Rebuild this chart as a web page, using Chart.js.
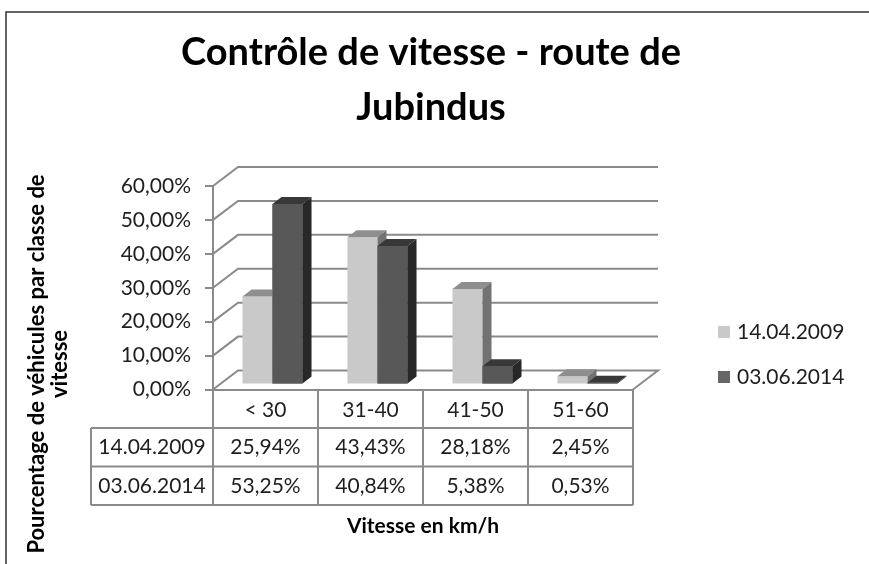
<!DOCTYPE html>
<html>
<head>
<meta charset="utf-8">
<script src="https://cdn.jsdelivr.net/npm/chart.js@4"></script>
<style>
  body { margin: 0; background: #fff; }
  canvas { display: block; }
</style>
</head>
<body>
<canvas id="speedChart" width="869" height="564"></canvas>
<script>
const titleLines = ['Contrôle de vitesse - route de', 'Jubindus'];
const yTitleLines = ['Pourcentage de véhicules par classe de', 'vitesse'];
const xTitle = 'Vitesse en km/h';
const categories = ['< 30', '31-40', '41-50', '51-60'];
const seriesNames = ['14.04.2009', '03.06.2014'];
const values2009 = [25.94, 43.43, 28.18, 2.45];
const values2014 = [53.25, 40.84, 5.38, 0.53];
const yTicks = [0, 10, 20, 30, 40, 50, 60];

const FONT = 'Lato';
const gridColor = '#8a8a8a';
const textColor = '#1e1e1e';
const fills = [
  { front: '#c9c9c9', top: '#8e8e8e', side: '#727272' },
  { front: '#585858', top: '#383838', side: '#282828' }
];
const wallDepth = { x: 25, y: -19 };
const barShift = { x: 7, y: -5 };
const barDepth = { x: 9, y: -7 };
const rowH = 38.5;

function pct(v) {
  return v.toFixed(2).replace('.', ',') + '%';
}

// back wall, left wall and floor
const wallsPlugin = {
  id: 'walls',
  beforeDatasetsDraw(chart) {
    const { ctx, chartArea, scales } = chart;
    ctx.save();
    ctx.strokeStyle = gridColor;
    ctx.lineWidth = 2;
    yTicks.forEach(v => {
      const y = scales.y.getPixelForValue(v);
      ctx.beginPath();
      ctx.moveTo(chartArea.left, y);
      ctx.lineTo(chartArea.left + wallDepth.x, y + wallDepth.y);
      ctx.lineTo(chartArea.right + wallDepth.x, y + wallDepth.y);
      if (v === 0) ctx.lineTo(chartArea.right, y);
      ctx.stroke();
    });
    ctx.restore();
  }
};

function drawFaces(ctx, bar, f) {
  const l = bar.x - bar.width / 2;
  const r = bar.x + bar.width / 2;
  ctx.fillStyle = f.top;
  ctx.beginPath();
  ctx.moveTo(l, bar.y);
  ctx.lineTo(r, bar.y);
  ctx.lineTo(r + barDepth.x, bar.y + barDepth.y);
  ctx.lineTo(l + barDepth.x, bar.y + barDepth.y);
  ctx.closePath();
  ctx.fill();
  ctx.fillStyle = f.side;
  ctx.beginPath();
  ctx.moveTo(r, bar.y);
  ctx.lineTo(r + barDepth.x, bar.y + barDepth.y);
  ctx.lineTo(r + barDepth.x, bar.base + barDepth.y);
  ctx.lineTo(r, bar.base);
  ctx.closePath();
  ctx.fill();
}

// 3d bars: shift the library bars back a bit and add top / side faces
const bars3dPlugin = {
  id: 'bars3d',
  beforeDatasetsDraw(chart) {
    chart.ctx.save();
    chart.ctx.translate(barShift.x, barShift.y);
  },
  afterDatasetsDraw(chart) {
    const ctx = chart.ctx;
    const light = chart.getDatasetMeta(0).data;
    const dark = chart.getDatasetMeta(1).data;
    light.forEach(bar => drawFaces(ctx, bar, fills[0]));
    // the dark bars stand right of the light ones, so they go on top
    dark.forEach(bar => {
      bar.draw(ctx);
      drawFaces(ctx, bar, fills[1]);
    });
    ctx.restore();
  }
};

// title, axis titles, data table, legend and frame
const decorPlugin = {
  id: 'decor',
  afterDraw(chart) {
    const { ctx, chartArea, scales } = chart;
    const series = [values2009, values2014];
    const tableTop = chartArea.bottom;
    const labelLeft = 91;
    ctx.save();

    ctx.strokeStyle = '#333';
    ctx.lineWidth = 1.5;
    ctx.strokeRect(6, 12, 900, 600);

    ctx.fillStyle = '#000';
    ctx.textAlign = 'center';
    ctx.textBaseline = 'middle';
    ctx.font = 'bold 38px ' + FONT;
    ctx.fillText(titleLines[0], 431, 53);
    ctx.fillText(titleLines[1], 431, 108);

    ctx.font = 'bold 21px ' + FONT;
    ctx.fillText(xTitle, (chartArea.left + chartArea.right) / 2, 526);
    ctx.save();
    ctx.translate(37, 364);
    ctx.rotate(-Math.PI / 2);
    ctx.font = 'bold 22px ' + FONT;
    ctx.fillText(yTitleLines[0], 0, 0);
    ctx.fillText(yTitleLines[1], 0, 23);
    ctx.restore();

    // table grid
    const colW = (chartArea.right - chartArea.left) / categories.length;
    const r1 = tableTop + rowH;
    const r2 = r1 + rowH;
    const r3 = r2 + rowH;
    ctx.strokeStyle = gridColor;
    ctx.lineWidth = 2;
    ctx.beginPath();
    [r1, r2, r3].forEach(y => {
      ctx.moveTo(labelLeft, y);
      ctx.lineTo(chartArea.right, y);
    });
    ctx.moveTo(labelLeft, r1);
    ctx.lineTo(labelLeft, r3);
    for (let i = 0; i <= categories.length; i++) {
      const x = chartArea.left + i * colW;
      ctx.moveTo(x, tableTop);
      ctx.lineTo(x, r3);
    }
    ctx.stroke();

    ctx.fillStyle = textColor;
    ctx.font = '21px ' + FONT;
    seriesNames.forEach((name, s) => {
      const y = tableTop + rowH * (s + 1.5);
      ctx.fillText(name, (labelLeft + chartArea.left) / 2, y);
      series[s].forEach((v, i) => {
        ctx.fillText(pct(v), scales.x.getPixelForValue(i), y);
      });
    });

    // legend
    ctx.textAlign = 'left';
    seriesNames.forEach((name, s) => {
      const y = 332 + s * 45;
      ctx.fillStyle = s === 0 ? fills[0].front : '#666666';
      ctx.fillRect(718, y - 6, 12, 12);
      ctx.fillStyle = textColor;
      ctx.fillText(name, 737, y);
    });
    ctx.restore();
  }
};

const ctx = document.getElementById('speedChart').getContext('2d');
new Chart(ctx, {
  type: 'bar',
  data: {
    labels: categories,
    datasets: [
      { label: seriesNames[0], data: values2009, backgroundColor: fills[0].front, clip: false },
      { label: seriesNames[1], data: values2014, backgroundColor: fills[1].front, clip: false }
    ]
  },
  options: {
    responsive: false,
    animation: false,
    events: [],
    categoryPercentage: 0.572,
    barPercentage: 1,
    layout: { padding: { top: 186, left: 90, right: 236, bottom: 136 } },
    plugins: {
      legend: { display: false },
      title: { display: false },
      tooltip: { enabled: false }
    },
    scales: {
      x: {
        grid: { display: false, drawTicks: false },
        border: { display: true, color: gridColor, width: 2 },
        ticks: { color: textColor, font: { family: FONT, size: 21 }, padding: 8 },
        afterFit(scale) { scale.height = 38.5; }
      },
      y: {
        min: 0,
        max: 60,
        afterBuildTicks(scale) { scale.ticks = yTicks.map(v => ({ value: v })); },
        grid: { drawOnChartArea: false, color: gridColor, lineWidth: 2, tickLength: 8 },
        border: { color: gridColor, width: 2 },
        ticks: { color: textColor, font: { family: FONT, size: 21 }, padding: 14, callback: v => pct(v) },
        afterFit(scale) { scale.width = 123; }
      }
    }
  },
  plugins: [wallsPlugin, bars3dPlugin, decorPlugin]
});
</script>
</body>
</html>
